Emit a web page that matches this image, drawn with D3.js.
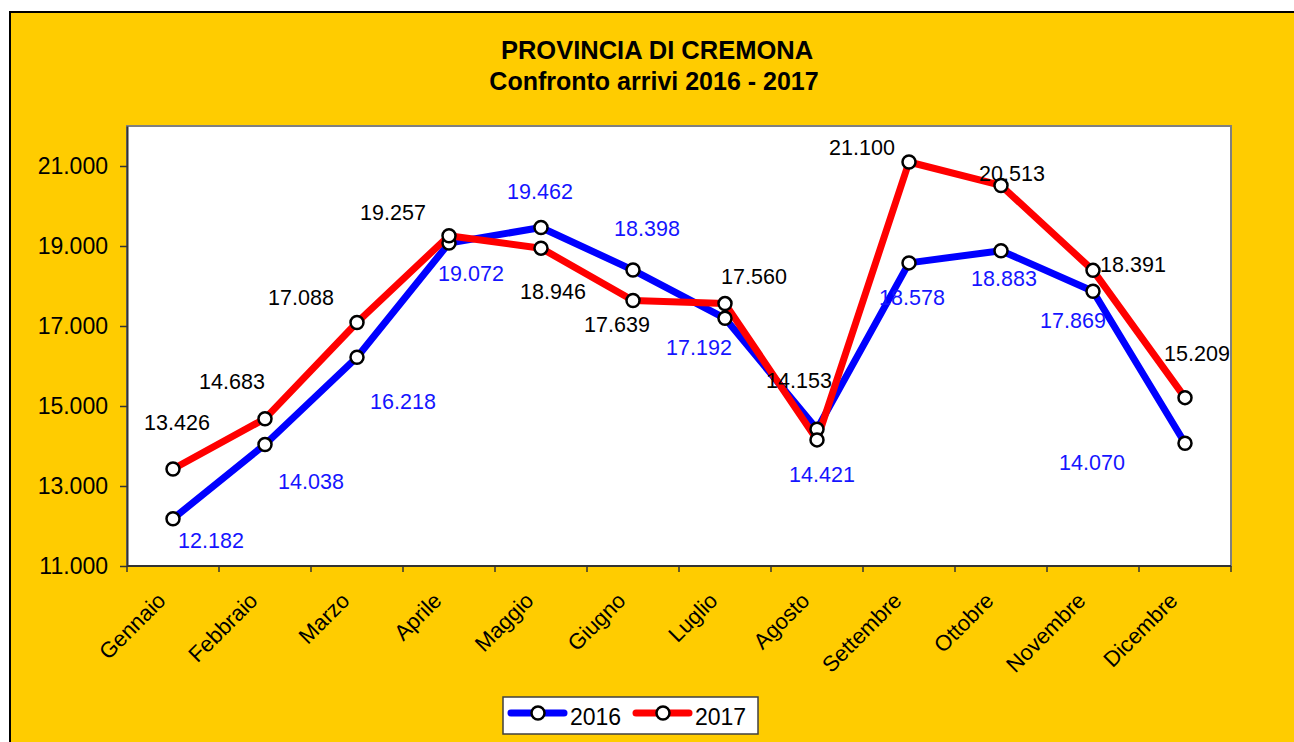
<!DOCTYPE html>
<html>
<head>
<meta charset="utf-8">
<script src="https://cdn.jsdelivr.net/npm/d3@7"></script>
<style>
  html, body { margin: 0; padding: 0; background: #ffffff; }
  svg { display: block; font-family: "Liberation Sans", Arial, sans-serif; }
</style>
</head>
<body>
<svg id="chart" width="1294" height="742"></svg>
<script>
// ---------- data ----------
const months = ["Gennaio","Febbraio","Marzo","Aprile","Maggio","Giugno","Luglio","Agosto","Settembre","Ottobre","Novembre","Dicembre"];
const values2016 = [12182, 14038, 16218, 19072, 19462, 18398, 17192, 14421, 18578, 18883, 17869, 14070];
const values2017 = [13426, 14683, 17088, 19257, 18946, 17639, 17560, 14153, 21100, 20513, 18391, 15209];
const yTicks = [11000, 13000, 15000, 17000, 19000, 21000];
const seriesNames = ["2016", "2017"];
const titleLines = ["PROVINCIA DI CREMONA", "Confronto arrivi 2016 - 2017"];

// label placement (pixel offsets from each point, as in the reference layout)
const labelDx2016 = [38, 46, 46, 22, -1, 14, -26, 5, 3, 3, -20, -93];
const labelDy2016 = [22, 37, 44, 30, -36, -42, 29, 45, 34, 28, 29, 19];
const labelDx2017 = [4, -33, -56, -56, 12, -16, 29, -18, -47, 11, 40, 12];
const labelDy2017 = [-47, -37, -25, -23, 43, 24, -27, -60, -15, -12, -6, -44];

// ---------- layout ----------
const svg = d3.select("#chart");
const plot = { left: 127, top: 126, right: 1231, bottom: 566 };
const colors = { bg: "#FFCC00", s2016: "#0000FF", s2017: "#FF0000", lab2016: "#1515FF", lab2017: "#000000" };

const itFmt = d3.formatLocale({ decimal: ",", thousands: ".", grouping: [3], currency: ["€", ""] }).format(",d");

// outer chart area
svg.append("rect").attr("x", 10).attr("y", 12).attr("width", 1300).attr("height", 760)
  .attr("fill", colors.bg).attr("stroke", "#000").attr("stroke-width", 2);

// title
svg.append("text").attr("x", 657).attr("y", 59).attr("text-anchor", "middle")
  .attr("font-size", 25.5).attr("font-weight", "bold").text(titleLines[0]);
svg.append("text").attr("x", 654).attr("y", 90).attr("text-anchor", "middle")
  .attr("font-size", 25).attr("font-weight", "bold").text(titleLines[1]);

// scales
const x = d3.scalePoint().domain(months).range([plot.left, plot.right]).padding(0.5);
const xb = d3.scaleBand().domain(months).range([plot.left, plot.right]);
const y = d3.scaleLinear().domain([11000, 22000]).range([plot.bottom, plot.top]);

// plot area
svg.append("rect").attr("x", plot.left).attr("y", plot.top)
  .attr("width", plot.right - plot.left).attr("height", plot.bottom - plot.top)
  .attr("fill", "#fff").attr("stroke", "#808080").attr("stroke-width", 2);

// y axis
const yAxis = d3.axisLeft(y).tickValues(yTicks).tickFormat(itFmt).tickSize(7).tickSizeOuter(0).tickPadding(12);
const gy = svg.append("g").attr("transform", `translate(${plot.left},0)`).call(yAxis);
gy.select(".domain").attr("stroke", "#333").attr("stroke-width", 2);
gy.selectAll(".tick line").attr("stroke", "#333").attr("stroke-width", 1.5);
gy.selectAll(".tick text").attr("font-size", 23).attr("fill", "#000")
  .attr("font-family", "Liberation Sans, Arial, sans-serif");

// x axis: ticks between categories
const bounds = months.map(m => xb(m)).concat([plot.right]);
const gx = svg.append("g");
gx.append("line").attr("x1", plot.left).attr("x2", plot.right)
  .attr("y1", plot.bottom).attr("y2", plot.bottom).attr("stroke", "#333").attr("stroke-width", 2);
gx.selectAll("line.tk").data(bounds).enter().append("line").attr("class", "tk")
  .attr("x1", d => d).attr("x2", d => d).attr("y1", plot.bottom).attr("y2", plot.bottom + 6)
  .attr("stroke", "#333").attr("stroke-width", 1.5);
gx.selectAll("text").data(months).enter().append("text")
  .attr("transform", d => `translate(${x(d) - 6},602) rotate(-45)`)
  .attr("text-anchor", "end").attr("font-size", 22).text(d => d);

// series
const series = [
  { name: seriesNames[0], values: values2016, color: colors.s2016, lab: colors.lab2016, dx: labelDx2016, dy: labelDy2016 },
  { name: seriesNames[1], values: values2017, color: colors.s2017, lab: colors.lab2017, dx: labelDx2017, dy: labelDy2017 }
];
const line = d3.line().x((d, i) => x(months[i])).y(d => y(d));

// lines first, then markers
series.forEach(s => {
  svg.append("path").datum(s.values).attr("d", line).attr("fill", "none")
    .attr("stroke", s.color).attr("stroke-width", 7).attr("stroke-linejoin", "round");
});
series.forEach(s => {
  svg.append("g").selectAll("circle").data(s.values).enter().append("circle")
    .attr("cx", (d, i) => x(months[i])).attr("cy", d => y(d)).attr("r", 6.5)
    .attr("fill", "#fff").attr("stroke", "#000").attr("stroke-width", 2.5);
});

// data labels (drawn on top)
series.forEach(s => {
  svg.append("g").selectAll("text").data(s.values).enter().append("text")
    .attr("x", (d, i) => x(months[i]) + s.dx[i])
    .attr("y", (d, i) => y(d) + s.dy[i])
    .attr("dy", "0.36em").attr("text-anchor", "middle")
    .attr("font-size", 21.5).attr("fill", s.lab).text(d => itFmt(d));
});

// legend
const lg = svg.append("g");
lg.append("rect").attr("x", 503).attr("y", 697).attr("width", 255).attr("height", 37)
  .attr("fill", "#fff").attr("stroke", "#404040").attr("stroke-width", 1.5);
series.forEach((s, i) => {
  const x0 = 508 + i * 125;
  lg.append("line").attr("x1", x0 + 3).attr("x2", x0 + 56).attr("y1", 713).attr("y2", 713)
    .attr("stroke", s.color).attr("stroke-width", 7).attr("stroke-linecap", "round");
  lg.append("circle").attr("cx", x0 + 30).attr("cy", 713).attr("r", 6.5)
    .attr("fill", "#fff").attr("stroke", "#000").attr("stroke-width", 2.5);
  lg.append("text").attr("x", x0 + 62).attr("y", 725).attr("font-size", 23).text(s.name);
});
</script>
</body>
</html>
